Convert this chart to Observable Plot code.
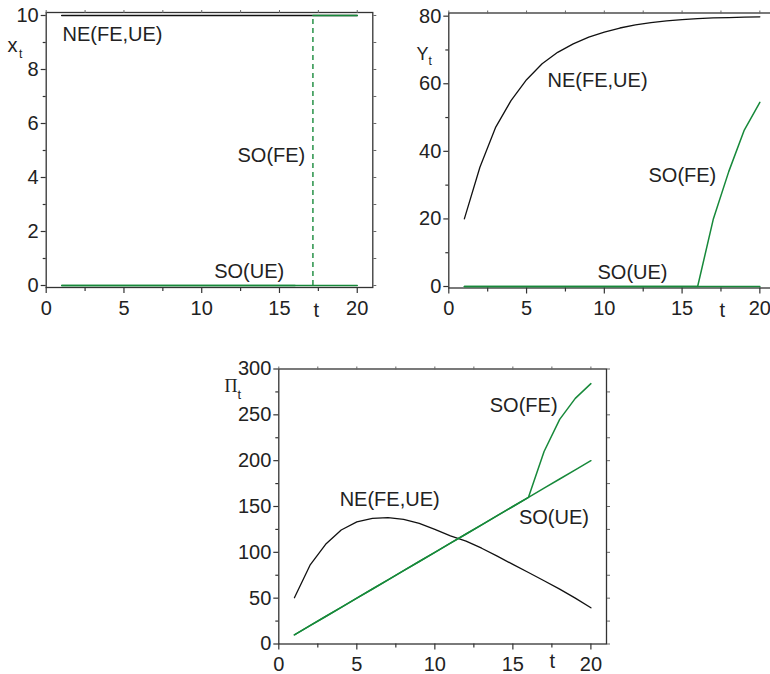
<!DOCTYPE html>
<html>
<head>
<meta charset="utf-8">
<script src="https://cdn.jsdelivr.net/npm/d3@7"></script>
<script src="https://cdn.jsdelivr.net/npm/@observablehq/plot@0.6"></script>
<style>
  html, body { margin: 0; padding: 0; background: #fff; overflow: hidden; }
  #wrap { position: relative; width: 770px; height: 674px; overflow: hidden; }
  #wrap svg { position: absolute; left: 0; top: 0; }
</style>
</head>
<body>
<div id="wrap"></div>
<script>
// ---------- data ----------
const t = [1,2,3,4,5,6,7,8,9,10,11,12,13,14,15,16,17,18,19,20];

// panel 1: x_t
const xNE   = [10,10,10,10,10,10,10,10,10,10,10,10,10,10,10,10,10,10,10,10];
const xSOUE = [0,0,0,0,0,0,0,0,0,0,0,0,0,0,0,0,0,0,0,0];
const xSOFE_t = [1,2,3,4,5,6,7,8,9,10,11,12,13,14,15,16];
const xSOFE   = [0,0,0,0,0,0,0,0,0,0,0,0,0,0,0,0];
const switchT = 17.15;              // SO(FE) switch time (dashed)
const xSOFEhigh_t = [17.15, 18, 19, 20];
const xSOFEhigh   = [10, 10, 10, 10];

// panel 2: Y_t
const yNE   = [20, 35.3, 47, 55, 61.2, 65.9, 69.3, 71.8, 73.8, 75.3, 76.5, 77.4, 78.1, 78.6, 79, 79.3, 79.5, 79.6, 79.7, 79.8];
const ySOFE = [0,0,0,0,0,0,0,0,0,0,0,0,0,0,0,0, 19.8, 34, 46.3, 54.5];
const ySOUE = [0,0,0,0,0,0,0,0,0,0,0,0,0,0,0,0,0,0,0,0];

// panel 3: Pi_t
const pNE   = [50.5, 86, 108.8, 124.4, 133.2, 137, 137.8, 136, 131.5, 125, 118, 112.3, 104.5, 95.8, 86.8, 78, 69, 59.8, 50, 39.5];
const pSOFE = [10,20,30,40,50,60,70,80,90,100,110,120,130,140,150,160, 210, 245, 268, 284];
const pSOUE = [10,20,30,40,50,60,70,80,90,100,110,120,130,140,150,160,170,180,190,200];

// tick values
const xMajor = [0,5,10,15,20];
const xMinor = [2.5,7.5,12.5,17.5];
const y1Major = [0,2,4,6,8,10], y1Minor = [1,3,5,7,9];
const y2Major = [0,20,40,60,80], y2Minor = [10,30,50,70];
const y3Major = [0,50,100,150,200,250,300], y3Minor = [25,75,125,175,225,275];

// labels
const lineLabels1 = [
  {text: "NE(FE,UE)", t: 1.05, v: 9.3},
  {text: "SO(FE)", t: 12.3, v: 4.81},
  {text: "SO(UE)", t: 10.8, v: 0.52}
];
const lineLabels2 = [
  {text: "NE(FE,UE)", t: 6.35, v: 61},
  {text: "SO(FE)", t: 12.84, v: 32.9},
  {text: "SO(UE)", t: 9.56, v: 4.1}
];
const lineLabels3 = [
  {text: "SO(FE)", t: 13.52, v: 260.2},
  {text: "NE(FE,UE)", t: 3.9, v: 157.6},
  {text: "SO(UE)", t: 15.39, v: 138}
];

// ---------- styling ----------
const GREEN = "#17893a";
const BLACK = "#111";
const AXIS = "#333";
const W = 770, H = 674;

const rows = (xs, ys) => xs.map((x, i) => ({t: x, v: ys[i]}));

function axisMarks(yMajor, yMinor) {
  const allX = [...xMajor, ...xMinor];
  const allY = [...yMajor, ...yMinor];
  const blank = () => "";
  return [
    Plot.frame({stroke: AXIS, strokeWidth: 1.3}),
    Plot.axisX({ticks: xMajor, tickSize: 6, tickPadding: 7, label: null, fill: "#222", stroke: AXIS, strokeWidth: 1.2}),
    Plot.axisX({ticks: xMinor, tickSize: 4, tickFormat: blank, label: null, stroke: AXIS, strokeWidth: 1.2}),
    Plot.axisX({anchor: "top", ticks: allX, tickSize: 3, tickFormat: blank, label: null, stroke: "#666"}),
    Plot.axisY({ticks: yMajor, tickSize: 5, tickPadding: 2.5, label: null, fill: "#222", stroke: AXIS, strokeWidth: 1.2}),
    Plot.axisY({ticks: yMinor, tickSize: 3, tickFormat: blank, label: null, stroke: AXIS, strokeWidth: 1.2}),
    Plot.axisY({anchor: "right", ticks: allY, tickSize: 3, tickFormat: blank, label: null, stroke: "#666"})
  ];
}

// page-coordinate text helper (frameAnchor top-left + offsets)
function pageText(str, px, py, m, opts = {}) {
  return Plot.text([str], {
    text: d => d, frameAnchor: "top-left",
    dx: px - m.left, dy: py - m.top,
    textAnchor: "start", lineAnchor: "middle", fill: "#222", ...opts
  });
}

function makePlot(m, yDomain, marks) {
  return Plot.plot({
    width: W, height: H,
    marginLeft: m.left, marginRight: m.right, marginTop: m.top, marginBottom: m.bottom,
    x: {domain: [0, 21]},
    y: {domain: yDomain},
    style: {fontFamily: "'Liberation Sans', Arial, sans-serif", fontSize: "20px", background: "transparent", overflow: "hidden", maxWidth: "none"},
    marks
  });
}

const wrap = document.getElementById("wrap");

// panel 1
{
  const m = {left: 45.7, right: W - 372.3, top: 12, bottom: H - 287};
  wrap.append(makePlot(m, [-0.074, 10.111], [
    ...axisMarks(y1Major, y1Minor),
    Plot.line(rows(t, xNE), {x: "t", y: "v", stroke: BLACK, strokeWidth: 1.6}),
    Plot.line(rows(t, xSOUE), {x: "t", y: "v", stroke: GREEN, strokeWidth: 1.5}),
    Plot.line(rows(xSOFE_t, xSOFE), {x: "t", y: "v", stroke: GREEN, strokeWidth: 1.5}),
    Plot.ruleX([switchT], {y1: 0, y2: 10, stroke: GREEN, strokeWidth: 1.4, strokeDasharray: "5,4"}),
    Plot.line(rows(xSOFEhigh_t, xSOFEhigh), {x: "t", y: "v", stroke: GREEN, strokeWidth: 1.6}),
    Plot.text(lineLabels1, {x: "t", y: "v", text: "text", textAnchor: "start", lineAnchor: "middle", fill: "#222", fontSize: 20}),
    pageText("t", 313, 310, m),
    pageText("x", 7, 45, m, {fontSize: 20}),
    pageText("t", 18.5, 54, m, {fontSize: 12})
  ]));
}

// panel 2
{
  const m = {left: 448.3, right: W - 774.9, top: 12.5, bottom: H - 287.5};
  wrap.append(makePlot(m, [-0.44, 80.94], [
    ...axisMarks(y2Major, y2Minor),
    Plot.line(rows(t, yNE), {x: "t", y: "v", stroke: BLACK, strokeWidth: 1.3}),
    Plot.line(rows(t, ySOUE), {x: "t", y: "v", stroke: GREEN, strokeWidth: 1.5}),
    Plot.line(rows(t, ySOFE), {x: "t", y: "v", stroke: GREEN, strokeWidth: 1.5}),
    Plot.text(lineLabels2, {x: "t", y: "v", text: "text", textAnchor: "start", lineAnchor: "middle", fill: "#222", fontSize: 20}),
    pageText("t", 719, 310, m),
    pageText("Y", 416, 53.5, m, {fontSize: 18}),
    pageText("t", 428, 61, m, {fontSize: 12})
  ]));
}

// panel 3
{
  const m = {left: 278.3, right: W - 606, top: 368.5, bottom: H - 643.5};
  wrap.append(makePlot(m, [0, 300], [
    ...axisMarks(y3Major, y3Minor),
    Plot.line(rows(t, pNE), {x: "t", y: "v", stroke: BLACK, strokeWidth: 1.3}),
    Plot.line(rows(t, pSOUE), {x: "t", y: "v", stroke: GREEN, strokeWidth: 1.5}),
    Plot.line(rows(t, pSOFE), {x: "t", y: "v", stroke: GREEN, strokeWidth: 1.5}),
    Plot.text(lineLabels3, {x: "t", y: "v", text: "text", textAnchor: "start", lineAnchor: "middle", fill: "#222", fontSize: 20}),
    pageText("t", 549, 661, m),
    pageText("Π", 224, 386, m, {fontSize: 18, fontFamily: "'Liberation Serif', serif"}),
    pageText("t", 237, 394, m, {fontSize: 13})
  ]));
}
</script>
</body>
</html>
